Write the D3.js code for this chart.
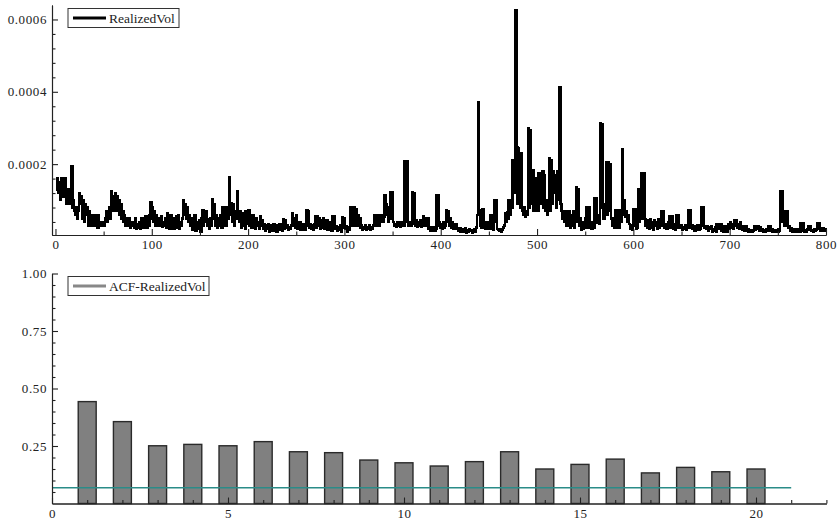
<!DOCTYPE html>
<html>
<head>
<meta charset="utf-8">
<script src="https://cdn.jsdelivr.net/npm/d3@7"></script>
<style>
  body { margin: 0; background: #fff; }
  svg text { font-family: "Liberation Serif", "Times New Roman", serif; fill: #222; }
</style>
</head>
<body>
<div id="graph"></div>
<script>
// realized volatility, values in units of 1e-5, observation 1..800
var realizedVol = [
  13, 16, 12, 15, 10, 16, 14, 11, 15, 16, 12, 9, 13, 10, 12, 9, 19.5, 8, 10, 7,
  6, 8, 5, 7, 12, 9, 11, 5, 10, 4, 9, 6, 8, 3, 7, 5, 6, 3, 5, 4,
  6, 3, 5, 2.5, 6, 3, 4, 3.5, 3, 4, 3, 5, 7, 4, 6, 8, 5, 12.6, 7, 11,
  9, 12, 7, 11, 8, 10, 6, 9, 5, 7, 4, 6, 3, 5, 4, 3, 5, 2.5, 4, 3,
  4, 2.3, 5, 2, 3.5, 2.5, 4, 2, 3, 5, 2.5, 4, 3, 5.5, 2.5, 4, 3, 6, 9.6, 5,
  8, 4, 7, 3, 6, 3, 5, 4, 3, 5.5, 2.7, 4, 3, 5, 2.5, 6.3, 3, 5, 2, 6,
  3, 5, 2, 4.5, 2.5, 5.5, 3, 6, 2, 4, 3, 5, 9.9, 6, 9, 5, 8, 4, 6, 3,
  5, 1.8, 4, 2.5, 6, 1.5, 4, 2, 3, 4.5, 1.2, 5, 7.3, 3, 6, 4, 7, 3, 4.7, 2,
  5, 3, 10.3, 5, 9, 3, 6, 2.5, 5, 3, 4, 6, 2.5, 8, 4, 7.5, 3, 8, 5, 7,
  16.5, 6, 9.3, 4, 9, 3, 7, 5, 12.6, 6, 4, 7, 2.5, 6.5, 3, 5, 2, 7, 3.5, 6,
  7.3, 3, 5.5, 2.5, 6, 3, 4.8, 2, 5, 3, 4, 2, 5.5, 3, 4.5, 2, 3.5, 1.5, 3, 2,
  3.5, 1.4, 2.7, 1.8, 3, 1.5, 3.5, 2, 2.5, 1.4, 3, 1.8, 3.3, 2, 2.5, 1.5, 4.8, 2, 4.5, 2.5,
  3, 1.8, 2.5, 2, 3, 6.5, 3, 5, 2.5, 6, 2, 3.5, 2, 4, 1.8, 3, 2.5, 3.5, 1.8, 3,
  7.3, 3, 7, 2.5, 3.5, 2, 3, 1.8, 3.5, 5.5, 2.5, 5.5, 3, 5, 2, 4.5, 2.5, 5, 2, 4,
  2, 4.5, 1.8, 3.5, 2.5, 4, 1.5, 5.5, 3, 5.5, 2, 2.8, 1.5, 2.5, 1.8, 3, 1.4, 5.3, 2.5, 5,
  2, 2.8, 1.4, 2.5, 1.8, 8.2, 3, 8, 4, 8.2, 3, 7.5, 3, 6, 3, 5, 2.5, 3, 1.8, 2.5,
  2, 3, 1.8, 2.5, 2, 3, 1.8, 2.5, 2, 3, 6, 3, 5.5, 4, 6, 3, 5, 4.5, 6, 4,
  5.5, 11.5, 6, 9, 8.2, 4, 8, 12.2, 5, 12.2, 4, 3, 3.5, 2.6, 4, 3, 4, 2.6, 3.5, 3,
  4, 3, 20.9, 6, 20.9, 4, 3, 4, 3, 3.5, 12.2, 4, 12, 3, 4.5, 2.6, 4, 3, 4.5, 2.6,
  4, 5.5, 3, 5, 4.5, 3, 5, 2, 2.6, 1.5, 2.2, 1.8, 2.6, 1.5, 2, 11.5, 3, 11.5, 4, 2.5,
  3.5, 2, 4, 2.5, 3, 7.3, 4, 7, 3, 5, 2.5, 4, 2, 3, 2.5, 3.5, 2, 2.3, 1.5, 2.2,
  1.4, 2, 1.2, 1.8, 1.5, 2.3, 1, 1.8, 1.2, 2, 1.5, 1.8, 1, 1.5, 2, 1.2, 2.5, 6, 37.2, 7.3,
  3, 6.5, 2.5, 7.6, 3, 4, 2, 3.5, 2.5, 4, 2, 6, 3, 5.5, 1.7, 10, 4, 10, 2, 1.8,
  1.5, 2, 1.3, 1.8, 2.5, 3, 6.5, 4, 6.8, 5, 10, 6, 10, 8, 21, 12, 21, 62.5, 24.8, 9,
  24.4, 23, 8, 23, 7, 6, 8, 5.5, 7, 6, 29.9, 8, 29.4, 18.4, 9, 18.3, 7, 12, 7, 16,
  7, 17.4, 10, 17.4, 9, 18, 8, 17, 7, 10, 6, 8, 21.6, 7, 21, 9, 18, 12, 17, 8,
  18, 10, 17, 41.2, 9, 7, 5, 7, 4, 6.5, 3, 7, 3.5, 7, 2.5, 6, 3, 7, 2.5, 5,
  13.7, 4, 13, 3, 5, 1.8, 4, 2, 3, 5, 2.5, 8, 3, 8, 2.5, 3, 2, 4, 2.5, 10.6,
  4, 10.6, 3.9, 6, 3.5, 31.2, 8, 31, 5, 4.8, 9, 20.5, 6, 20.5, 7, 20, 4.8, 5, 3, 4.8,
  2.5, 7.3, 3, 5.5, 2.5, 7.3, 4, 7.3, 24.1, 6, 10, 5.5, 7, 4, 6, 3.4, 2, 3, 1.8, 7.6,
  3, 7.6, 2, 2.5, 13, 4, 13, 5, 17.6, 6, 17.6, 4.8, 3, 4.5, 2.5, 3.4, 2, 4.8, 2.5, 4,
  1.8, 4.5, 3, 4, 2, 4.8, 2.5, 3.5, 6.9, 3, 6.9, 3.5, 2.5, 3.5, 2, 3, 4, 5.6, 2.5, 5.6,
  3, 2, 3.5, 1.8, 5.9, 2.5, 5.9, 3, 2.5, 3, 1.8, 2.5, 2, 3, 1.8, 2.5, 7.3, 3, 7.3, 2.5,
  3, 2, 2.8, 1.5, 2.5, 2, 3, 1.8, 2.5, 2, 8.2, 3, 8, 2.5, 2.8, 2, 2.8, 1.5, 2.5, 2,
  2.8, 1.3, 1.9, 1.5, 2.5, 1.3, 3.3, 2, 3.3, 2.5, 3.3, 1.5, 2.5, 1.3, 2.8, 1.8, 2, 1.3, 3.3, 2,
  3.9, 2.5, 3.3, 2, 4.6, 3, 4.6, 2.5, 3.5, 2, 3.9, 2.2, 2.8, 1.8, 2.5, 1.6, 2.8, 1.5, 2, 1.3,
  1.6, 1.3, 1.5, 1.2, 1.6, 2.8, 1.8, 2.8, 2, 2.8, 1.5, 2.5, 1.6, 2, 1.3, 1.6, 1.2, 2, 1.5, 2.8,
  2, 2.8, 1.5, 2, 1.3, 1.8, 1.2, 1.6, 1.8, 1.3, 2, 1.5, 12.6, 4, 12.6, 4.6, 3, 7.1, 3, 7.1,
  2.5, 2.8, 1.6, 2.2, 1.3, 2, 1.6, 1.8, 1.3, 2, 1.5, 1.8, 1.3, 3.8, 1.6, 3.8, 1.5, 1.3, 1.6, 1.4,
  2, 2.8, 1.8, 2.8, 1.5, 1.8, 1.3, 2, 1.5, 1.8, 3.8, 2, 3.8, 1.6, 2, 1.5, 2.2, 1.6, 2, 1.5
];

// autocorrelation of realized vol, lags 1..20
var acfLags = [1, 2, 3, 4, 5, 6, 7, 8, 9, 10, 11, 12, 13, 14, 15, 16, 17, 18, 19, 20];
var acfValues = [0.443, 0.356, 0.251, 0.257, 0.251, 0.269, 0.225, 0.221, 0.189, 0.177,
                 0.163, 0.182, 0.225, 0.150, 0.170, 0.193, 0.133, 0.157, 0.138, 0.150];
var acfBand = 0.069;

var topXTicks = [0, 100, 200, 300, 400, 500, 600, 700, 800];
var topYTicks = [0.0002, 0.0004, 0.0006];
var botXTicks = [0, 5, 10, 15, 20];
var botYTicks = [0.25, 0.5, 0.75, 1.0];

var svg = d3.select("#graph")
    .append("svg")
    .attr("width", 837)
    .attr("height", 524);

function drawAxes(g, x, y, xTicks, xMinor, yTicks, yMinor, yFmt, xFmt) {
  var yLeft = x.range()[0], xBase = y.range()[0];

  g.append("g")
    .attr("transform", "translate(0," + xBase + ")")
    .call(d3.axisBottom(x).tickValues(xMinor).tickSizeInner(-3.5).tickSizeOuter(0).tickFormat(""));
  g.append("g")
    .attr("transform", "translate(" + yLeft + ",0)")
    .call(d3.axisLeft(y).tickValues(yMinor).tickSizeInner(-3.5).tickSizeOuter(0).tickFormat(""));

  g.append("g")
    .attr("class", "xaxis")
    .attr("transform", "translate(0," + xBase + ")")
    .call(d3.axisBottom(x).tickValues(xTicks).tickSizeInner(-6).tickSizeOuter(0)
      .tickPadding(5).tickFormat(xFmt));
  g.append("g")
    .attr("class", "yaxis")
    .attr("transform", "translate(" + yLeft + ",0)")
    .call(d3.axisLeft(y).tickValues(yTicks).tickSizeInner(-6).tickSizeOuter(0)
      .tickPadding(5).tickFormat(yFmt));

  g.selectAll(".domain, .tick line").attr("stroke", "#222").attr("stroke-width", 1.1);
  g.selectAll(".tick text")
    .attr("font-family", "Liberation Serif, serif")
    .attr("font-size", 13)
    .attr("letter-spacing", 0.6)
    .attr("fill", "#222");
}

function legend(g, lx, ly, w, label, color) {
  g.append("rect")
    .attr("x", lx).attr("y", ly).attr("width", w).attr("height", 19)
    .attr("fill", "#fff").attr("stroke", "#333").attr("stroke-width", 1);
  g.append("line")
    .attr("x1", lx + 5).attr("x2", lx + 38)
    .attr("y1", ly + 9.5).attr("y2", ly + 9.5)
    .attr("stroke", color).attr("stroke-width", 3);
  g.append("text")
    .attr("x", lx + 41).attr("y", ly + 14)
    .attr("font-size", 13.5)
    .text(label);
}

// ---- top: realized vol series
var xTop = d3.scaleLinear().domain([-3.6, 800]).range([52, 826]);
var yTop = d3.scaleLinear().domain([0.000004, 0.00064]).range([235, 5]);

var gTop = svg.append("g");

gTop.append("path")
  .datum(realizedVol)
  .attr("fill", "none")
  .attr("stroke", "#000")
  .attr("stroke-width", 2.4)
  .attr("stroke-linejoin", "miter")
  .attr("shape-rendering", "crispEdges")
  .attr("d", d3.line()
    .curve(d3.curveStep)
    .x(function (d, i) { return xTop(i + 1); })
    .y(function (d) { return yTop(d * 1e-5); }));

drawAxes(gTop, xTop, yTop, topXTicks, d3.range(50, 800, 100),
  topYTicks, [0.00004, 0.00008, 0.00012, 0.00016, 0.00024, 0.00028, 0.00032, 0.00036,
              0.00044, 0.00048, 0.00052, 0.00056],
  d3.format(".4f"), d3.format("d"));

legend(gTop, 68, 8.5, 111, "RealizedVol", "#000");

// ---- bottom: ACF bars
var xBot = d3.scaleLinear().domain([0, 22]).range([52, 826.4]);
var yBot = d3.scaleLinear().domain([0, 1]).range([503.5, 273.5]);
var barW = 0.51;

var gBot = svg.append("g");

gBot.selectAll("rect.bar")
  .data(acfValues)
  .enter()
  .append("rect")
  .attr("class", "bar")
  .attr("x", function (d, i) { return xBot(acfLags[i] - barW / 2); })
  .attr("width", xBot(barW) - xBot(0))
  .attr("y", function (d) { return yBot(d); })
  .attr("height", function (d) { return yBot(0) - yBot(d); })
  .attr("fill", "#808080")
  .attr("stroke", "#2a2a2a")
  .attr("stroke-width", 1.4);

gBot.append("line")
  .attr("x1", xBot(0)).attr("x2", xBot(21))
  .attr("y1", yBot(acfBand)).attr("y2", yBot(acfBand))
  .attr("stroke", "#2a8c88")
  .attr("stroke-width", 1.5);

var botYMinor = [0.05, 0.1, 0.15, 0.2, 0.3, 0.35, 0.4, 0.45, 0.55, 0.6, 0.65, 0.7, 0.8, 0.85, 0.9, 0.95];

drawAxes(gBot, xBot, yBot, botXTicks, [1, 2, 3, 4, 6, 7, 8, 9, 11, 12, 13, 14, 16, 17, 18, 19, 21, 22],
  botYTicks, botYMinor, d3.format(".2f"), d3.format("d"));

legend(gBot, 68, 276.5, 141, "ACF-RealizedVol", "#888");
</script>
</body>
</html>
